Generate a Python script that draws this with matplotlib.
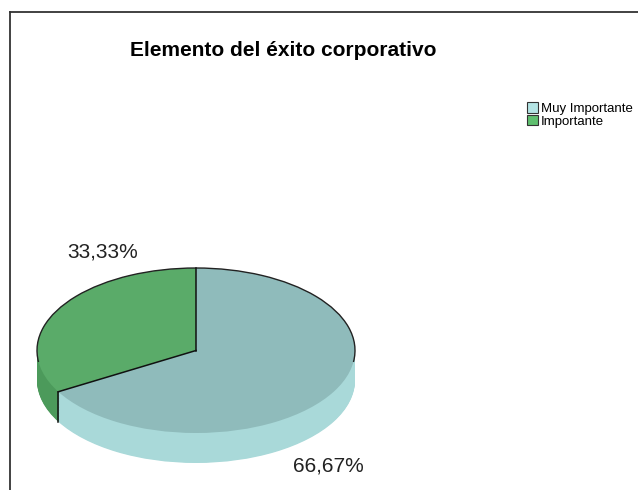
import numpy as np
import matplotlib.pyplot as plt
from matplotlib.patches import Patch, Arc
from matplotlib.lines import Line2D

plt.rcParams['font.family'] = ['Liberation Sans', 'DejaVu Sans']

title = 'Elemento del éxito corporativo'
labels = ['Muy Importante', 'Importante']
values = [66.67, 33.33]

top_colors = ['#8fbbbb', '#5aab69']
side_colors = ['#a9d9d9', '#4c9a5b']
legend_colors = ['#b4e4e4', '#5fbf6f']

fig = plt.figure(figsize=(6.38, 4.9), dpi=100)
W, H = 638, 490

# axes placed so the pie ellipse sits on the left half of the figure
cx, cy, rx, ry = 196, 350.5, 159, 82.5
px0, px1, py_top, py_bot = 20, 372, 245, 482
ax = fig.add_axes([px0 / W, 1 - py_bot / H, (px1 - px0) / W, (py_bot - py_top) / H])
depth = 30 / ry

# side of the pie: stacked layers pushed downward
for d in np.linspace(depth, 0.01, 40):
    ax.pie(values, colors=side_colors, startangle=90, counterclock=False,
           center=(0, -d), radius=1, wedgeprops=dict(linewidth=0))

# top face
ax.pie(values, colors=top_colors, startangle=90, counterclock=False,
       center=(0, 0), radius=1, wedgeprops=dict(linewidth=0))

# slice boundaries
fracs = np.array(values) / sum(values)
edges = 90 - 360 * np.concatenate([[0], np.cumsum(fracs)[:-1]])
for ang in edges:
    t = np.deg2rad(ang)
    ax.plot([0, np.cos(t)], [0, np.sin(t)], color='#111111', lw=1.1)
    if np.sin(t) < 0:
        ax.plot([np.cos(t), np.cos(t)], [np.sin(t), np.sin(t) - depth],
                color='#111111', lw=1.1)

# back rim
ax.add_patch(Arc((0, 0), 2, 2, theta1=-8, theta2=188, color='#222222', lw=1.0))

ax.set_aspect('auto')
ax.set_xlim((px0 - cx) / rx, (px1 - cx) / rx)
ax.set_ylim((cy - py_bot) / ry, (cy - py_top) / ry)
ax.axis('off')

# percentage labels
label_pos = [(0.835, -1.40), (-0.585, 1.19)]
for v, (lx, ly) in zip(values, label_pos):
    ax.text(lx, ly, f'{v:.2f}%'.replace('.', ','), ha='center', va='center',
            fontsize=15, color='#222222')

fig.text(283 / W, 1 - 50 / H, title, ha='center', va='center',
         fontsize=15, fontweight='bold')

handles = [Patch(facecolor=c, edgecolor='#333333', lw=0.8) for c in legend_colors]
fig.legend(handles, labels, loc='upper left', bbox_to_anchor=(527 / W, 1 - 102 / H),
           frameon=False, fontsize=9.5, handlelength=0.8, handleheight=0.85,
           handletextpad=0.25, labelspacing=0.0, borderpad=0, borderaxespad=0)

# outer frame: top and left borders
fig.add_artist(Line2D([10 / W, 1], [1 - 12 / H, 1 - 12 / H], color='#333333', lw=1.3))
fig.add_artist(Line2D([10 / W, 10 / W], [1 - 12 / H, 0], color='#333333', lw=1.3))

fig.savefig('out.png', dpi=100)
